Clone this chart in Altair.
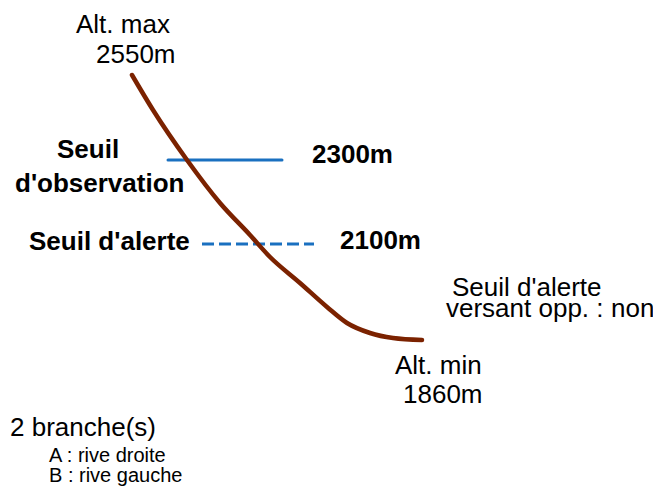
import altair as alt
import pandas as pd

# Profile of the avalanche path (schematic coordinates, y grows downward)
curve_x = [132, 153, 187, 220, 250, 270, 300, 327, 347, 370, 393, 422]
curve_y = [75, 110, 160, 203, 235, 257, 283, 307, 323, 333, 338, 340]

# Threshold lines
obs_x = [168, 282]
obs_y = [160, 160]
alert_x = [202, 314]
alert_y = [244, 244]

# Labels
bold_text = ["Seuil", "d'observation", "2300m", "Seuil d'alerte", "2100m"]
bold_x = [57, 15, 312, 29, 340]
bold_y = [158, 192, 163, 250, 249]

reg_text = ["Alt. max", "2550m", "Seuil d'alerte", "versant opp. :", "non",
            "Alt. min", "1860m", "2 branche(s)"]
reg_x = [76, 96, 452, 446, 611, 395, 403, 10]
reg_y = [33, 63, 296, 317, 317, 374, 403, 436]

small_text = ["A : rive droite", "B : rive gauche"]
small_x = [49, 49]
small_y = [462, 482]

W, H = 645, 479
xs = alt.Scale(domain=[8, 8 + W])
ys = alt.Scale(domain=[8, 8 + H], reverse=True)
FONT = "Liberation Sans"

curve_df = pd.DataFrame({"x": curve_x, "y": curve_y, "o": range(len(curve_x))})
obs_df = pd.DataFrame({"x": obs_x, "y": obs_y})
alert_df = pd.DataFrame({"x": alert_x, "y": alert_y})
bold_df = pd.DataFrame({"t": bold_text, "x": bold_x, "y": bold_y})
reg_df = pd.DataFrame({"t": reg_text, "x": reg_x, "y": reg_y})
small_df = pd.DataFrame({"t": small_text, "x": small_x, "y": small_y})

def enc(chart):
    return chart.encode(
        x=alt.X("x:Q", scale=xs, axis=None),
        y=alt.Y("y:Q", scale=ys, axis=None),
    )

curve = alt.Chart(curve_df).mark_line(
    color="#7B2200", strokeWidth=4.5, interpolate="monotone", strokeCap="round"
).encode(
    x=alt.X("x:Q", scale=xs, axis=None),
    y=alt.Y("y:Q", scale=ys, axis=None),
    order="o:Q",
)

obs = enc(alt.Chart(obs_df).mark_line(color="#1a70c0", strokeWidth=3, strokeCap="round"))
alert = enc(alt.Chart(alert_df).mark_line(color="#1a70c0", strokeWidth=3, strokeDash=[12, 5]))

bold = enc(alt.Chart(bold_df).mark_text(
    font=FONT, fontSize=26, fontWeight="bold", align="left", baseline="alphabetic", color="black"
)).encode(text="t:N")
reg = enc(alt.Chart(reg_df).mark_text(
    font=FONT, fontSize=26, align="left", baseline="alphabetic", color="black"
)).encode(text="t:N")
small = enc(alt.Chart(small_df).mark_text(
    font=FONT, fontSize=20, align="left", baseline="alphabetic", color="black"
)).encode(text="t:N")

chart = alt.layer(obs, alert, curve, bold, reg, small).properties(
    width=W, height=H, padding=0, autosize=alt.AutoSizeParams(type="none")
).configure_view(stroke=None)

chart.save("out.html", embed_options={"renderer": "svg", "actions": False})
